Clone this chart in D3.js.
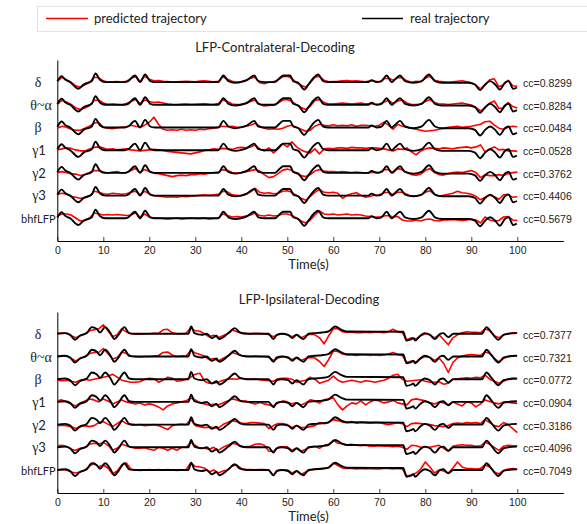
<!DOCTYPE html>
<html><head><meta charset="utf-8">
<script src="https://cdn.jsdelivr.net/npm/d3@7"></script>
<style>html,body{margin:0;padding:0;background:#fff;} svg{display:block;}</style>
</head><body>
<svg id="chart" width="587" height="524"></svg>
<script>
// ---------- data ----------
const timeTicks = [0,10,20,30,40,50,60,70,80,90,100];
const bandLabels = ["δ","θ~α","β","γ1","γ2","γ3","bhfLFP"];
const contraCC = ["0.8299","0.8284","0.0484","0.0528","0.3762","0.4406","0.5679"];
const ipsiCC   = ["0.7377","0.7321","0.0772","0.0904","0.3186","0.4096","0.7049"];
const panelTitles = ["LFP-Contralateral-Decoding","LFP-Ipsilateral-Decoding"];
const legendLabels = ["predicted trajectory","real trajectory"];
const axisLabel = "Time(s)";

// real trajectory, [time, value] knots
const contraReal = [[0,0.5],[0.95,5.7],[1.7,2.3],[2.8,-0.3],[4.6,-7],[5.7,-2.7],[7.5,0.7],[8.3,8.3],[9.3,1.7],[10.4,-0.3],
 [14.7,-0.3],[15.4,0.7],[16.9,6.3],[18,-0.3],[19.1,7.3],[20.2,0.7],[21.2,-0.3],[35,-0.3],[36.1,6.3],[37.2,0.7],
 [38.6,-1],[40.1,0],[41.2,1.7],[42.8,6.3],[43.7,0.7],[45.2,-0.3],[47.3,-0.3],[48.4,4],[49.1,6.3],[50.6,6.3],
 [51.3,0.7],[52.4,-1],[53.7,-7.7],[54.6,-2.7],[55.7,4],[56.7,7.3],[57.8,0.7],[58.9,-0.3],[67.6,-0.3],[68.3,1.7],
 [69.4,-0.3],[70.5,0.7],[71.6,6.3],[72.7,-0.3],[73.4,2.3],[74.5,6.3],[75.6,0.7],[77.4,-1],[79.2,0.7],[80.8,7.3],
 [82.1,0.7],[83.6,-1],[89.4,-1],[90.8,-2.7],[91.9,-8.3],[93,-2.7],[94.1,0.7],[95.2,-2.7],[96.2,-7.7],[97.3,-1],
 [98.1,0.7],[99.1,-7],[99.9,-5.7]];
const ipsiReal = [[0,0],[1.7,0.7],[2.8,-1],[3.85,-6],[4.9,-2],[6.4,0.7],[7.5,6.7],[8.6,4.7],[9.3,1.3],[10.4,6.7],
 [11.5,1.3],[12.4,-5.3],[13.3,-1],[14.6,6.7],[15.6,0.7],[16.9,0],[28.5,0],[29.1,7.3],[29.8,0.7],[31.4,-1],
 [32.5,0],[33.6,-4.3],[34.6,-2],[35.2,-5.3],[37.2,0.7],[38.6,5.7],[39.7,1.3],[41.2,0],[45.9,0],[47,-5.3],
 [47.7,-1],[48.8,0],[50.2,-1],[51.1,-4.3],[52,-1],[53.5,-5.3],[54.6,0],[56,0.7],[57.5,1.3],[58.9,2.3],
 [60.4,7.3],[61.8,4],[62.9,2.3],[75.2,2],[75.9,-6.7],[77,-5.3],[77.4,-4.3],[77.8,-6.7],[78.9,-2],[79.9,0.7],
 [81,-1],[82.1,-5.3],[83.2,0],[83.9,0.7],[85,-3.3],[86.1,0],[92.3,0],[93.3,6.7],[94.4,1.3],[95.9,-6],
 [97,-1],[98,0],[99.9,0.7]];

// predicted trajectories, one value per second (t = 0..100)
const contraDelta = [0.5,4.5,2,-0.5,-4,-5.5,-3,-0.5,4.5,4, 1,-0.5,0,0.3,-0.3,0.5,3.5,5,0.5,5.5,
 2.5,1,1.2,0.5,0.3,-0.2,0,0.3,0.5,0.2, 0,0.8,1,0.5,0,0.5,5,2.5,0.5,-0.5, 0.3,1.5,3.5,4.5,-1,-2,-0.5,0,2,5,
 5.5,3.5,-1,-3.5,-5.5,-1,4.5,5.5,1.5,0, 0.3,0.5,1,1.2,0.8,1,0.5,0,1,0.5, 0,3,3.5,1.5,4,4,1,-0.5,0.5,0,
 3.5,5.5,1.5,0.5,0,-0.5,0,0.5,1,0, -1,-3.5,-7,-3,2,3,-5,-3,1.5,-4, -4.5];
const contraTheta = [0,4,2.5,0,-3.5,-5,-3.5,-1,4,4.5, 1.5,0,0.5,0,-0.5,1,3,5,1,4.5,
 3,2,2.5,1.5,0.5,0,-0.3,0.3,0.5,0, 0.2,0.5,0.8,0.3,0,1,4.5,3,0.5,0, 0,1,3,4.5,0,-1.5,-1,-0.5,1.5,4.5,
 5,3,-0.5,-3,-5,-1.5,4,5,2,0.5, 0.5,1,1.5,1,0.5,1,1.5,0.5,1,0, 0.5,2.5,4,1,3.5,4.5,1.5,0,0,0.5,
 3,5,2,0.5,0.5,0,0.5,1,1.5,0.5, -0.5,-3,-6.5,-3.5,1.5,3.5,-4,-3.5,2,-2, -3.5];
const contraBeta = [-1,1,0,-2,-3,-3,-1,1,4,5, 0,-1,-1.5,-0.5,0,0.5,2,1,0,2,
 5,10,3,-2,-3,-2.5,-3,-2,-3,-2.5, -3,-2,-2.5,-1.5,-1,0,1,0.5,1,0, 0,1,2,4,1,-1,-2,-1.5,-2,-1,
 1,2,0,-2,-4,-3,1,3,2,1.5, 2.5,1.5,2,1.5,2.5,1,2,2,1.5,1, 2,5,2,-2,3,1,0,-1,-2,-3,
 -4,-3.5,-3,-2,-1,0,0.5,1,0,0.5, 1,2,3,5.5,6,2,-1,-2,0,1, 0.5];
const contraGamma1 = [0,1,2,1.5,0,-1,-1,1,2.5,3, 2,0.5,1,0,0.5,1,0,-0.5,-1,-0.5,
 0,0.5,0,-0.5,-1.5,-2,-2.5,-3,-3.5,-4, -3,-2,-0.5,0,1,0.5,1.5,1,0.5,2, 2.5,2,3,5,1,-1,2,-3,1,6,
 3,8,3,0,-2,-3,1,-4,1,1.5, 1,2,2,1.5,2.5,2,2,1.5,2,2, 1.5,1,0,-1,1,0.5,2,-2,-5,-1,
 1,2,1.5,1,2,1.5,1,2,2.5,3, 2,3,5,-2,1,3,0,0.5,-1,-1, -1.5];
const contraGamma2 = [0,1,0,-1,-1.5,-3,-2,0,2,2, 0.5,-0.5,0.5,1,-0.5,0,2,4,0.5,3,
 1,-0.5,-1,-2,-3,-4,-3,-2.5,-3,-2, -2,-1,-1.5,-0.5,0,0.5,3,2,0,-0.5, 0,1,2,3,1.5,-2,-5,-4,-1,2.5,
 3.5,2,-1,-3,-4,-2,1.5,3,1.5,1, 1,0.5,1,0.5,0,0.5,0,-0.5,0,0.5, 0,3,3,0,4,3,0,-2,-2.5,-1.5,
 2,4,0,-2,-2.5,-1,0,0.5,0,1, 2,0,-5,-2,-3,-3,-2,-3,-1,0, 0.5];
const contraGamma3 = [1,2,1,-1,-2,-3,-2.5,-1,4,3, 1.5,1,2,1.5,1,1.5,3,4,1,4,
 1.5,-0.5,-1,-1.5,-2,-1.5,-2,-1,-1.5,-1, -0.5,0,0.5,0,0.5,1,4,3.5,0.5,0, -0.5,1,3.5,7,3,2,2.5,1.5,2,4,
 4.5,3,0,-3,-5,-1,3,6,3,2.5, 3,2,-3,0,1.5,2.5,0,-2,-1,0, 0.5,2.5,3,0.5,3,3,1,-1,-0.5,0,
 3,4.5,1,-1,0,1,2,4,2.5,2, 1,-1,-4.5,-2,0,-1.5,-4,0.5,1,-2, -1.5];
const contraBhf = [2,4,4,3,0,-3,-2.5,0,5,4, 3,3.5,3,3.5,3,2.5,3,5,1,4,
 1,0,0,-0.5,-1,-0.5,0,-1,-0.5,0, -0.5,-0.5,0,-1,-0.5,0,4,2.5,1,1.5, 1,2,3,5,2.5,2,3,2,2.5,4,
 4,2.5,0,-3,-5,-2,3,7,4,3.5, 4,3,3.5,4,3,3.5,3,2,1.5,1, 1,2,2.5,1,1.5,-2,-3,-3,-2,-3,
 -1.5,-1,-2.5,-3,-2,-2,-1.5,-2,-2.5,-2, -1,-2,-5,1,-2,-3,-2.5,1,1.5,-2, -2.5];

const ipsiDelta = [0.5,0.7,0.5,-2,-4,-2,0,3,4,5, 9,3,-3,-1,5,2,0,-0.5,-0.5,0,
 0,0.5,0.5,4,4.5,1,0,0,0.5,6, 3,2.5,0,-3,-1.5,-4,-2,0,4,2, 1,0.5,0,0.5,0.3,0,-1,-3,-1,0,
 -1,-3,-1,-4,-2,-0.5,-1,-4,-10,-2, 5,5,2,1.5,1.5,1,1,1.5,1,1.5, 1.5,1,2,4.5,2,1,-6,-4,-5,-2,
 0,-1,-4,-1,-6,-11,-4,-1,1,2, 1.5,1.5,1,5,3,-2,-4,-1,0,1, 1];
const ipsiTheta = [0,1,0.5,-2,-4.5,-2,0,3,4,4, 8,3,-2.5,-1,4.5,3,0.5,0,-0.5,0,
 0,0.5,1,4,4.5,1.5,0,0.5,0.5,6, 3.5,2,0.5,-3,-2,-4.5,-2,0.5,4,2.5, 1,0.5,0,0.5,0,0,-1,-4,-1.5,0,
 -1,-3,-1.5,-4,-2,-1,-1.5,-5,-10,-3, 5.5,5,2.5,1.5,1.5,1,1.5,1.5,1,1.5, 1,1.5,2.5,4,2,1,-6,-4.5,-5.5,-2,
 0,-1,-4,-1.5,-7,-16,-6,-1.5,0.5,1.5, 2,1.5,1,4.5,3,-2,-5.5,-2,0,0.5, 1];
const ipsiBeta = [-1,-1.5,-1,-2,-3,-1,0,-1,0,1, 2,3,5,2,-1,-2,-3,-3,-2.5,0,
 1,0.5,-3,-1,2,1,-2,-1.5,0,2, 5,6,-2,-4,-4,-3,-1,0,0.5,0, 1,0.5,0,0.5,-0.5,-1,-1.5,-2,0.5,1,
 1,0,-3,-2,-1,2,0,-4,-2.5,-1, 3,-1,-3,-2,-1,-2,-3,-1.5,-2,-3, -2,-1,1,4,5,0,-2,-1.5,-1,-0.5,
 -2,-3,-3,-2.5,-5,-4,0,0.5,1,1.5, 1,2,1.5,4,0,-2,-4,-2,0,1, 0.5];
const ipsiGamma1 = [1,2,0,-2,-4,-1,1,3,2,0, 3,1,-2,0,2,0,-1,-2,-1,-3,
 -2,-3,-5,-8,-4,-2,-1,0,1,4, 2,-1,-2,-3,-2.5,-3,-1,1,3,2, 0.5,1,-1,-2,-0.5,-2,-3,-4,-1,1,
 0,-2,-1,-3,-1,2,1,-1,2,3, 4,-3,-8,-4,-1,-2,1,-3,0,2, 1,-1,0,1.5,-1,-2,-3,2,3,2,
 1,-1,-2,0,-1,-3,0,-2,-4,0, -1,-5,-2,2,0.5,-1,-2,0,-0.5,-1, -1.5];
const ipsiGamma2 = [-1,-0.5,-1,-2,-4,-2,-1,-2,-1,2, 3,0.5,-2,1,4,1,-0.5,-0.5,0,-1,
 -0.5,0,-1,-3,-5,-1,0,0.5,0,5, -1,-2,-3,-2.5,-3,-3.5,0,2,4,3, 1.5,1,2,2,1.5,1,-4,-1,1,1,
 0,-3,-1,-3,-3,-2,-1,2,1,2, 5,4,2.5,2,3,1.5,2.5,2,1.5,2, 2,1,0,1,2,1,-2,1,1.5,1,
 0.5,0,-1,-1.5,-2,-1,1,1.5,1,2, 1.5,2,1,5,2,-1,-2,2,0,-4, -8];
const ipsiGamma3 = [1.5,2,1,-2,-3,-1,0,3,4,3, 5,2,-3,-1,3,1.5,0,-1,-1,-0.5,
 -2,-3,0,-1,-3,-1,-3,0,0,5, 2,-1,-1,-2,0,-3,0,2,4,3, 1,0.5,1,3,3.5,2,-4,-4,0,0.5,
 0.5,-3,-1,-4,-2,0,1,-1,2,3, 7,4,3.5,2.5,3,2,1.5,2,1,1, 1.5,1,1,0.5,1,0,-2,2,1.5,0,
 0.5,0,1,2,-1,-4,1,2,2.5,2, 2,1,1.5,5,3,0,-3,1,2,1.5, 1.5];
const ipsiBhf = [0,0.5,0,-2,-3,-2,0,4,7,3, 5,2,-4,-1,5,7,1,0,-0.5,0,
 0.5,0,0.5,0,0.5,0,-0.5,0,0.5,7, 3.5,3,2,-2,0,-3,-1,0,4,5, 1.5,0.5,0.5,0.3,0.5,0.5,-0.5,-5,-0.5,0,
 0,-3,-1,-4.5,-2,0,1,1.5,1.5,2, 7,4.5,2,1.5,1.5,1,1.5,1,1.5,1, 1,1.5,1.5,1,1.5,1,-6,-5,-3,1,
 8,3,-3,0,-1,-3,2,8,3,1.5, 1.5,1,1.5,5,3,-2,-4,-0.5,1,1.5, 0.5];

// ---------- drawing ----------
const svg = d3.select("#chart");
const SANS = "'Liberation Sans', Arial, sans-serif";
const HUM = "Lato, 'Open Sans', sans-serif";
const SERIF = "'Liberation Serif', 'DejaVu Serif', serif";

const x = d3.scaleLinear().domain([0, 110]).range([57.3, 563.3]);

// legend
const leg = svg.append("g");
leg.append("rect").attr("x", 37.5).attr("y", 6.5).attr("width", 560).attr("height", 25)
  .attr("fill", "#fff").attr("stroke", "#e4e4e4").attr("stroke-width", 1);
leg.append("line").attr("x1", 46).attr("x2", 88).attr("y1", 18.5).attr("y2", 18.5)
  .attr("stroke", "#ff0000").attr("stroke-width", 1.6);
leg.append("text").attr("x", 94).attr("y", 23).text(legendLabels[0])
  .attr("font-family", HUM).attr("font-size", 13).attr("fill", "#222");
leg.append("line").attr("x1", 362).attr("x2", 403).attr("y1", 18.5).attr("y2", 18.5)
  .attr("stroke", "#000").attr("stroke-width", 1.6);
leg.append("text").attr("x", 410).attr("y", 23).text(legendLabels[1])
  .attr("font-family", HUM).attr("font-size", 13).attr("fill", "#222");

const panels = [
  { top: 60, bottom: 241, titleX: 275, title: panelTitles[0], cc: contraCC, real: contraReal,
    pred: [contraDelta, contraTheta, contraBeta, contraGamma1, contraGamma2, contraGamma3, contraBhf] },
  { top: 312, bottom: 493, titleX: 309, title: panelTitles[1], cc: ipsiCC, real: ipsiReal,
    pred: [ipsiDelta, ipsiTheta, ipsiBeta, ipsiGamma1, ipsiGamma2, ipsiGamma3, ipsiBhf] }
];

panels.forEach(p => {
  const y = d3.scaleLinear().domain([0, 181]).range([p.bottom, p.top]);
  const g = svg.append("g");

  g.append("text").attr("x", p.titleX).attr("y", p.top - 8).attr("text-anchor", "middle")
    .attr("font-family", HUM).attr("font-size", 13).attr("fill", "#222").text(p.title);

  // axes
  const xAxis = d3.axisBottom(x).tickValues(timeTicks).tickSize(-4).tickSizeOuter(0).tickPadding(6);
  const xa = g.append("g").attr("transform", `translate(0,${p.bottom})`).call(xAxis);
  xa.selectAll("text").attr("font-family", SANS).attr("font-size", 10.5).attr("fill", "#222");
  xa.selectAll("line").attr("stroke", "#444");
  xa.select(".domain").attr("stroke", "#000");
  const yAxis = d3.axisLeft(y).tickValues([]).tickSizeOuter(0);
  const ya = g.append("g").attr("transform", `translate(${x(0)},0)`).call(yAxis);
  ya.select(".domain").attr("stroke", "#000");

  g.append("text").attr("x", 308.5).attr("y", p.bottom + 27.5).attr("text-anchor", "middle")
    .attr("font-family", HUM).attr("font-size", 13).attr("fill", "#222").text(axisLabel);

  const rowOffset = i => 23 + (6 - i) * 22.7;

  p.pred.forEach((series, i) => {
    const off = rowOffset(i);
    const redLine = d3.line().x((v, k) => x(k)).y(v => y(off + v));
    g.append("path").attr("d", redLine(series)).attr("fill", "none")
      .attr("stroke", "#ff0000").attr("stroke-width", 1.6).attr("stroke-linejoin", "round");
    const blackLine = d3.line().x(d => x(d[0])).y(d => y(off + d[1])).curve(d3.curveMonotoneX);
    g.append("path").attr("d", blackLine(p.real)).attr("fill", "none")
      .attr("stroke", "#000").attr("stroke-width", 1.9).attr("stroke-linejoin", "round");

    // row label
    const lab = bandLabels[i];
    const t = g.append("text").attr("y", y(off) + 5).attr("font-size", 14).attr("fill", "#222");
    if (lab === "bhfLFP") {
      t.attr("x", 55.5).attr("text-anchor", "end")
        .attr("font-family", HUM).attr("font-size", 11).text(lab);
    } else if (lab.startsWith("γ")) {
      t.attr("x", 39).attr("text-anchor", "middle");
      t.append("tspan").attr("font-family", SERIF).text("γ");
      t.append("tspan").attr("font-family", HUM).attr("font-size", 13).text(lab.slice(1));
    } else {
      t.attr("x", lab.length > 1 ? 41 : 38).attr("text-anchor", "middle")
        .attr("font-family", SERIF).text(lab);
    }

    g.append("text").attr("x", 523).attr("y", y(off) + 5)
      .attr("font-family", SANS).attr("font-size", 10.5).attr("fill", "#222")
      .text("cc=" + p.cc[i]);
  });
});
</script>
</body></html>
